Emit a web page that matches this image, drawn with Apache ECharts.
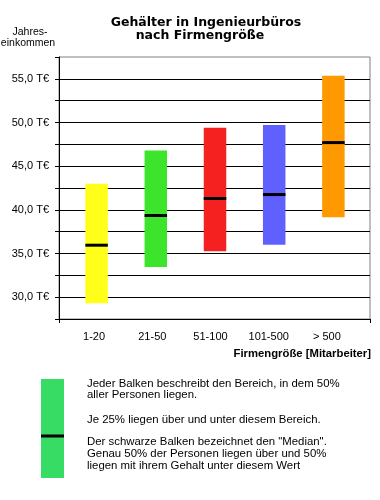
<!DOCTYPE html>
<html>
<head>
<meta charset="utf-8">
<script src="https://cdn.jsdelivr.net/npm/echarts@6/dist/echarts.min.js"></script>
<style>
html,body{margin:0;padding:0;background:#fff;}
#chart{width:380px;height:500px;}
</style>
</head>
<body>
<div id="chart"></div>
<script>
// ---- data ----
const categories = ['1-20', '21-50', '51-100', '101-500', '> 500'];
const lowerQuartile = [29.3, 33.45, 35.25, 36.0, 39.15];
const upperQuartile = [43.0, 46.8, 49.4, 49.7, 55.35];
const medianValues = [35.95, 39.35, 41.3, 41.75, 47.7];
const yTickLabels = ['30,0 T€', '35,0 T€', '40,0 T€', '45,0 T€', '50,0 T€', '55,0 T€'];

// ---- styles ----
const barColors = ['#FFFF1A', '#3CE42C', '#F52020', '#6060FF', '#FF9900'];
const FONT = 'Liberation Sans, Arial, sans-serif';
const BODY = '11.4px ' + FONT;

const chart = echarts.init(document.getElementById('chart'), null, {renderer: 'canvas'});

const seriesData = categories.map((c, i) => [i, lowerQuartile[i], upperQuartile[i], medianValues[i]]);

const Y_MIN = 27.5, Y_MAX = 57.5;
const GT = 57, GB = 181;

const option = {
  animation: false,
  backgroundColor: '#fff',
  grid: [
    {left: 59, right: 10, top: GT, bottom: GB, show: true, borderColor: '#808080', borderWidth: 1, backgroundColor: 'transparent'},
    {left: 67, right: 17, top: GT, bottom: GB},
    {left: 65, right: 24, top: GT, bottom: GB}
  ],
  xAxis: [
    {gridIndex: 0, type: 'value', min: 0, max: 1, interval: 1,
     axisLine: {show: true, lineStyle: {color: '#000', width: 1}},
     axisTick: {show: true, length: 4, lineStyle: {color: '#000'}},
     axisLabel: {show: false}, splitLine: {show: false}},
    {gridIndex: 1, type: 'category', data: categories, show: false},
    {gridIndex: 2, type: 'category', data: categories,
     axisLine: {show: false}, axisTick: {show: false},
     axisLabel: {show: true, margin: 12, color: '#000', fontFamily: FONT, fontSize: 11}}
  ],
  yAxis: [
    {gridIndex: 0, type: 'value', min: Y_MIN, max: Y_MAX, interval: 2.5,
     axisLine: {show: true, lineStyle: {color: '#000', width: 1}},
     axisTick: {show: true, length: 4, lineStyle: {color: '#000'}},
     splitLine: {show: true, showMaxLine: false, lineStyle: {color: '#000', width: 1}},
     axisLabel: {margin: 10, color: '#000', fontFamily: FONT, fontSize: 11,
       formatter: function (v) {
         const idx = Math.round((v - 30) / 5);
         if (Math.abs(v - 30 - idx * 5) < 1e-6 && idx >= 0 && idx < yTickLabels.length) return yTickLabels[idx];
         return '';
       }}},
    {gridIndex: 1, type: 'value', min: Y_MIN, max: Y_MAX, show: false, splitLine: {show: false}},
    {gridIndex: 2, type: 'value', min: Y_MIN, max: Y_MAX, show: false, splitLine: {show: false}}
  ],
  series: [
    {
      type: 'custom',
      xAxisIndex: 1, yAxisIndex: 1,
      data: seriesData,
      renderItem: function (params, api) {
        const x = api.value(0);
        const pLo = api.coord([x, api.value(1)]);
        const pHi = api.coord([x, api.value(2)]);
        const pMed = api.coord([x, api.value(3)]);
        const w = api.size([1, 0])[0] * 0.38;
        return {
          type: 'group',
          children: [
            {type: 'rect', shape: {x: pLo[0] - w / 2, y: pHi[1], width: w, height: pLo[1] - pHi[1]},
             style: {fill: barColors[params.dataIndex]}},
            {type: 'rect', shape: {x: pMed[0] - w / 2, y: pMed[1] - 1.5, width: w, height: 3},
             style: {fill: '#000'}}
          ]
        };
      }
    }
  ],
  graphic: [
    {type: 'text', x: 206, y: 23, style: {text: 'Gehälter in Ingenieurbüros', fill: '#000',
      font: 'bold 12.5px "DejaVu Sans", sans-serif', align: 'center', verticalAlign: 'middle'}},
    {type: 'text', x: 200, y: 36, style: {text: 'nach Firmengröße', fill: '#000',
      font: 'bold 12.5px "DejaVu Sans", sans-serif', align: 'center', verticalAlign: 'middle'}},
    {type: 'text', x: 30, y: 32, style: {text: 'Jahres-', fill: '#000',
      font: '10.5px ' + FONT, align: 'center', verticalAlign: 'middle'}},
    {type: 'text', x: 28, y: 43, style: {text: 'einkommen', fill: '#000',
      font: '10.5px ' + FONT, align: 'center', verticalAlign: 'middle'}},
    {type: 'text', x: 371, y: 354, style: {text: 'Firmengröße [Mitarbeiter]', fill: '#000',
      font: 'bold 11.3px ' + FONT, align: 'right', verticalAlign: 'middle'}},
    {type: 'rect', shape: {x: 41, y: 379, width: 23, height: 99}, style: {fill: '#36DC64'}},
    {type: 'rect', shape: {x: 41, y: 434.5, width: 23, height: 3}, style: {fill: '#000'}},
    {type: 'text', x: 87, y: 384, style: {text: 'Jeder Balken beschreibt den Bereich, in dem 50%', fill: '#000',
      font: BODY, verticalAlign: 'middle'}},
    {type: 'text', x: 87, y: 395, style: {text: 'aller Personen liegen.', fill: '#000',
      font: BODY, verticalAlign: 'middle'}},
    {type: 'text', x: 87, y: 420, style: {text: 'Je 25% liegen über und unter diesem Bereich.', fill: '#000',
      font: BODY, verticalAlign: 'middle'}},
    {type: 'text', x: 87, y: 442, style: {text: 'Der schwarze Balken bezeichnet den "Median".', fill: '#000',
      font: BODY, verticalAlign: 'middle'}},
    {type: 'text', x: 87, y: 454, style: {text: 'Genau 50% der Personen liegen über und 50%', fill: '#000',
      font: BODY, verticalAlign: 'middle'}},
    {type: 'text', x: 87, y: 466, style: {text: 'liegen mit ihrem Gehalt unter diesem Wert', fill: '#000',
      font: BODY, verticalAlign: 'middle'}}
  ]
};
chart.setOption(option);
</script>
</body>
</html>
